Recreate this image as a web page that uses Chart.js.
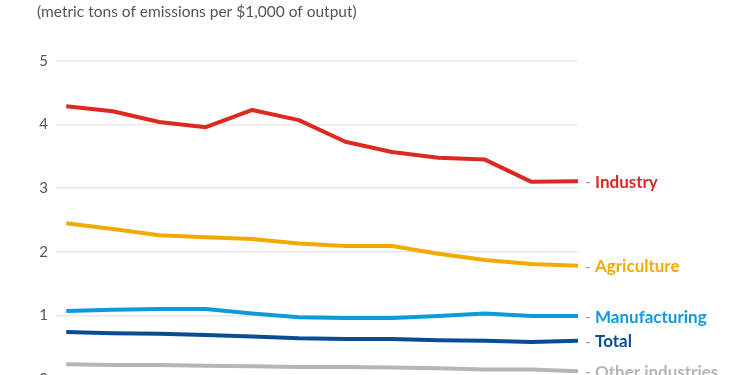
<!DOCTYPE html>
<html>
<head>
<meta charset="utf-8">
<script src="https://cdn.jsdelivr.net/npm/chart.js@4"></script>
<style>
  html, body { margin: 0; padding: 0; background: #fff; overflow: hidden; }
  #wrap { position: relative; width: 750px; height: 375px; overflow: hidden; }
  canvas { position: absolute; left: 0; top: 0; }
</style>
</head>
<body>
<div id="wrap">
  <canvas id="chart" width="750" height="400"></canvas>
</div>
<script>
// 연도 (x축은 숨김)
const YEARS = [2006, 2007, 2008, 2009, 2010, 2011, 2012, 2013, 2014, 2015, 2016, 2017];

const INDUSTRY      = [4.29, 4.21, 4.04, 3.96, 4.23, 4.07, 3.73, 3.57, 3.48, 3.45, 3.10, 3.11];
const AGRICULTURE   = [2.45, 2.36, 2.26, 2.23, 2.20, 2.13, 2.09, 2.09, 1.97, 1.87, 1.81, 1.78];
const MANUFACTURING = [1.07, 1.09, 1.10, 1.10, 1.03, 0.97, 0.96, 0.96, 0.99, 1.03, 0.99, 0.99];
const TOTAL         = [0.74, 0.72, 0.71, 0.69, 0.67, 0.64, 0.63, 0.63, 0.61, 0.60, 0.58, 0.60];
const OTHER         = [0.23, 0.22, 0.22, 0.21, 0.20, 0.19, 0.19, 0.18, 0.17, 0.15, 0.15, 0.12];

const Y_TICKS = [0, 1, 2, 3, 4, 5];

const SUBTITLE = '(metric tons of emissions per $1,000 of output)';

const SERIES = [
  { name: 'Industry',         values: INDUSTRY,      color: '#dc2a22' },
  { name: 'Agriculture',      values: AGRICULTURE,   color: '#f3aa00' },
  { name: 'Manufacturing',    values: MANUFACTURING, color: '#0c9ad9' },
  { name: 'Total',            values: TOTAL,         color: '#0a4c93' },
  { name: 'Other industries', values: OTHER,         color: '#b5b5b5' },
];

const FONT = 'Lato, "Open Sans", sans-serif';

// 상단 단위 설명
const subtitle = {
  id: 'subtitle',
  beforeDraw(chart) {
    const ctx = chart.ctx;
    ctx.save();
    ctx.font = '15.5px ' + FONT;
    ctx.fillStyle = '#555';
    ctx.textBaseline = 'middle';
    ctx.fillText(SUBTITLE, 37, 12);
    ctx.restore();
  }
};

// 선 끝에 "- 이름" 라벨
const endLabels = {
  id: 'endLabels',
  afterDatasetsDraw(chart) {
    const ctx = chart.ctx;
    const x0 = chart.chartArea.right + 7;
    ctx.save();
    ctx.textBaseline = 'middle';
    chart.data.datasets.forEach((ds, i) => {
      const meta = chart.getDatasetMeta(i);
      const pt = meta.data[meta.data.length - 1];
      if (!pt) return;
      const y = pt.y + 1;
      ctx.font = '15px ' + FONT;
      ctx.fillStyle = '#9a9a9a';
      ctx.fillText('-', x0, y);
      ctx.font = 'bold 17px ' + FONT;
      ctx.fillStyle = ds.borderColor;
      ctx.fillText(ds.label, x0 + 10, y);
    });
    ctx.restore();
  }
};

const datasets = SERIES.map(s => ({
  label: s.name,
  data: s.values.map((v, i) => ({ x: YEARS[i], y: v })),
  borderColor: s.color,
  backgroundColor: s.color,
  borderWidth: 4,
  borderJoinStyle: 'round',
  pointRadius: 0,
  tension: 0,
  fill: false,
}));

new Chart(document.getElementById('chart'), {
  type: 'line',
  data: { datasets },
  options: {
    responsive: false,
    animation: false,
    devicePixelRatio: 1,
    layout: { padding: { top: 61, right: 172, bottom: 21, left: 0 } },
    plugins: { legend: { display: false }, tooltip: { enabled: false } },
    scales: {
      x: {
        type: 'linear',
        display: false,
        min: YEARS[0] - 0.22,
        max: YEARS[YEARS.length - 1],
      },
      y: {
        min: 0, max: 5,
        afterFit(scale) { scale.width = 56; },
        afterBuildTicks(scale) { scale.ticks = Y_TICKS.map(v => ({ value: v })); },
        border: { display: false },
        grid: { color: '#e9e9e9', lineWidth: 1.5, drawTicks: false },
        ticks: { color: '#555', padding: 8, font: { family: FONT, size: 15 } },
      },
    },
  },
  plugins: [subtitle, endLabels],
});
</script>
</body>
</html>
